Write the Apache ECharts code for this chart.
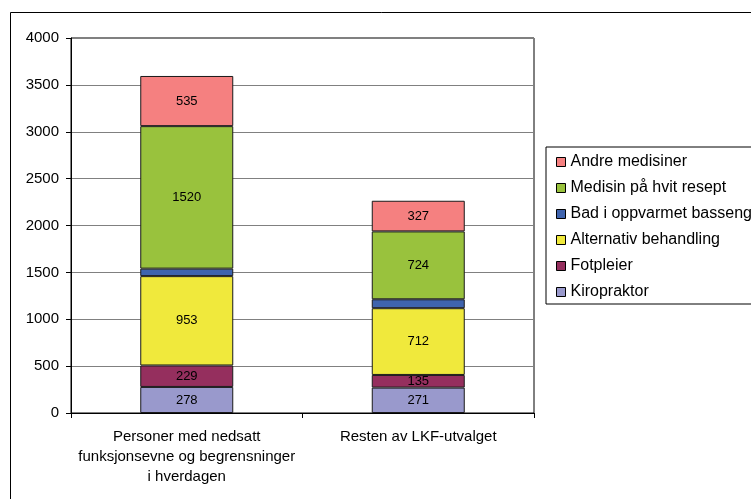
<!DOCTYPE html>
<html>
<head>
<meta charset="utf-8">
<script src="https://cdn.jsdelivr.net/npm/echarts@6/dist/echarts.min.js"></script>
<style>
  html, body { margin: 0; padding: 0; background: #fff; }
  #chart { width: 751px; height: 499px; }
</style>
</head>
<body>
<div id="chart"></div>
<script>
const categories = [
  'Personer med nedsatt\nfunksjonsevne og begrensninger\ni hverdagen',
  'Resten av LKF-utvalget'
];
const kiropraktor = [278, 271];
const fotpleier = [229, 135];
const alternativ = [953, 712];
const bad = [80, 95];
const medisinHvit = [1520, 724];
const andreMedisiner = [535, 327];

const font = 'Liberation Sans, Arial, sans-serif';

function seg(name, data, color, showLabel) {
  return {
    name: name,
    type: 'bar',
    stack: 'total',
    barWidth: 93,
    data: data,
    itemStyle: { color: color, borderColor: '#1a1a1a', borderWidth: 1 },
    label: {
      show: showLabel,
      position: 'inside',
      color: '#000',
      fontFamily: font,
      fontSize: 13
    }
  };
}

const chart = echarts.init(document.getElementById('chart'), null, { renderer: 'canvas' });
chart.setOption({
  animation: false,
  backgroundColor: '#fff',
  textStyle: { fontFamily: font },
  graphic: [{
    type: 'rect',
    shape: { x: 10.5, y: 12.5, width: 800, height: 600 },
    style: { fill: 'none', stroke: '#000', lineWidth: 1 },
    z: -1
  }],
  grid: {
    left: 71, top: 38, right: 217, bottom: 86,
    show: true, borderColor: '#000', borderWidth: 1
  },
  legend: {
    orient: 'vertical',
    left: 546, top: 147,
    padding: [6, 40, 3, 10],
    itemGap: 8,
    itemWidth: 9,
    itemHeight: 9,
    borderColor: '#000',
    borderWidth: 1,
    backgroundColor: '#fff',
    icon: 'rect',
    itemStyle: { borderColor: '#000', borderWidth: 1 },
    textStyle: { fontFamily: font, fontSize: 16, color: '#000', lineHeight: 18 },
    data: ['Andre medisiner', 'Medisin på hvit resept', 'Bad i oppvarmet basseng',
           'Alternativ behandling', 'Fotpleier', 'Kiropraktor']
  },
  xAxis: {
    type: 'category',
    data: categories,
    axisLine: { lineStyle: { color: '#000' } },
    axisTick: { show: true, length: 5, lineStyle: { color: '#000' } },
    axisLabel: {
      color: '#000', fontFamily: font, fontSize: 15,
      lineHeight: 20, margin: 14, interval: 0
    }
  },
  yAxis: {
    type: 'value',
    min: 0, max: 4000, interval: 500,
    axisLine: { show: true, lineStyle: { color: '#000' } },
    axisTick: { show: true, length: 5, lineStyle: { color: '#000' } },
    axisLabel: {
      color: '#000', fontFamily: font, fontSize: 15, margin: 12,
      formatter: function (v) { return String(v); }
    },
    splitLine: { show: true, lineStyle: { color: '#808080', width: 1 } }
  },
  series: [
    seg('Kiropraktor', kiropraktor, '#9999CC', true),
    seg('Fotpleier', fotpleier, '#952F5E', true),
    seg('Alternativ behandling', alternativ, '#F0E93C', true),
    seg('Bad i oppvarmet basseng', bad, '#3F64AE', false),
    seg('Medisin på hvit resept', medisinHvit, '#99C23D', true),
    seg('Andre medisiner', andreMedisiner, '#F58080', true)
  ]
});
window.addEventListener('resize', function () { chart.resize(); });
</script>
</body>
</html>
